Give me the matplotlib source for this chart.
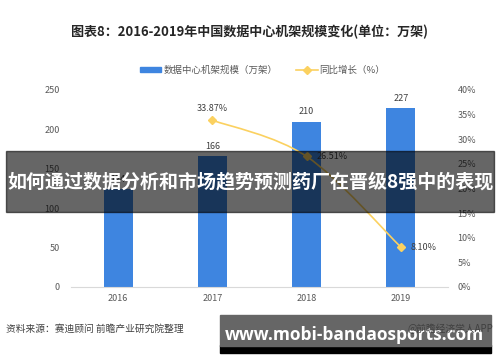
import numpy as np
import matplotlib
matplotlib.use('Agg')
import matplotlib.pyplot as plt
from matplotlib.path import Path
from matplotlib.patches import PathPatch, Rectangle

plt.rcParams['font.family'] = ['Noto Sans CJK SC', 'DejaVu Sans']

years = ['2016', '2017', '2018', '2019']
racks = [124, 166, 210, 227]
growth = [None, 33.87, 26.51, 8.10]

title = '图表8：2016-2019年中国数据中心机架规模变化(单位：万架)'
bar_name = '数据中心机架规模（万架）'
line_name = '同比增长（%）'
source = '资料来源：赛迪顾问 前瞻产业研究院整理'
banner = '如何通过数据分析和市场趋势预测药厂在晋级8强中的表现'
site = 'www.mobi-bandaosports.com'

blue = '#3E85E0'
yellow = '#FBD160'
txt = '#595959'

fig = plt.figure(figsize=(5, 3.62), dpi=100)
ax = fig.add_axes([0.142, 0.2072, 0.754, 0.5442])
ax2 = ax.twinx()

x = np.arange(len(years))
ax.bar(x, racks, width=0.31, color=blue, zorder=2)
for xi, v in zip(x, racks):
    ax.annotate(str(v), (xi, v), xytext=(0, 4), textcoords='offset points',
                ha='center', va='bottom', fontsize=6.5, color='#404040')

ax.set_xlim(-0.5, 3.5)
ax.set_ylim(0, 250)
ax.set_yticks(range(0, 251, 50))
ax.set_xticks(x)
ax.set_xticklabels(years)
ax.tick_params(length=0, labelsize=6.5, labelcolor=txt)
ax.tick_params(axis='y', pad=8)
ax.tick_params(axis='x', pad=5)
for s in ['top', 'left', 'right']:
    ax.spines[s].set_visible(False)
ax.spines['bottom'].set_color('#D9D9D9')

# smooth growth line (catmull-rom as bezier)
gx = [xi for xi, g in zip(x, growth) if g is not None]
gy = [g for g in growth if g is not None]
pts = np.column_stack([gx, gy]).astype(float)
verts = [pts[0]]
codes = [Path.MOVETO]
n = len(pts)
for i in range(n - 1):
    p0 = pts[max(i - 1, 0)]
    p1 = pts[i]
    p2 = pts[i + 1]
    p3 = pts[min(i + 2, n - 1)]
    verts += [p1 + (p2 - p0) / 6, p2 - (p3 - p1) / 6, p2]
    codes += [Path.CURVE4] * 3
ax2.add_patch(PathPatch(Path(verts, codes), fill=False, edgecolor=yellow, lw=1.2, zorder=3))
ax2.plot(gx, gy, linestyle='none', marker='D', ms=4, color=yellow, zorder=4)
offs = [(0, 5, 'center', 'bottom'), (7, 0, 'left', 'center'), (7, 0, 'left', 'center')]
for xi, g, (dx, dy, ha, va) in zip(gx, gy, offs):
    ax2.annotate(f'{g:.2f}%', (xi, g), xytext=(dx, dy), textcoords='offset points',
                 ha=ha, va=va, fontsize=6.5, color='#404040')

ax2.set_ylim(0, 40)
ax2.set_yticks(range(0, 41, 5))
ax2.set_yticklabels([f'{t}%' for t in range(0, 41, 5)])
ax2.tick_params(length=0, labelsize=6.5, labelcolor=txt, pad=7)
for s in ax2.spines.values():
    s.set_visible(False)

fig.text(0.5, 1 - 32 / 362, title, ha='center', va='center', fontsize=9.4,
         fontweight='bold', color='#262626')

h1 = Rectangle((0, 0), 1, 1, color=blue)
h2 = plt.Line2D([], [], color=yellow, lw=1.2, marker='D', ms=4)
fig.legend([h1, h2], [bar_name, line_name], loc='center',
           bbox_to_anchor=(0.525, 1 - 70 / 362), ncol=2, frameon=False,
           fontsize=6.8, handlelength=2.3, handleheight=0.5, columnspacing=2.0,
           handletextpad=0.2, labelcolor=txt)

fig.text(6 / 500, 1 - 329 / 362, source, ha='left', va='center', fontsize=7,
         color='#404040')

# overlay banners
fig.patches.append(Rectangle((6 / 500, 1 - 212 / 362), 488 / 500, 61 / 362,
                             transform=fig.transFigure, color='black', alpha=0.6,
                             zorder=5))
fig.text(0.5, 1 - 182 / 362, banner, ha='center', va='center', fontsize=13.7,
         fontweight='bold', color='white', zorder=6)

fig.patches.append(Rectangle((220 / 500, 1 - 353 / 362), 271 / 500, 8 / 362,
                             transform=fig.transFigure, color='black', zorder=5))
fig.patches.append(Rectangle((220 / 500, 1 - 346 / 362), 271 / 500, 31 / 362,
                             transform=fig.transFigure, color='#666666', zorder=5))
fig.text(407 / 500, 1 - 329 / 362, '@前瞻经济学人APP', ha='left', va='center',
         fontsize=7, color='#404040', zorder=7)
fig.text(354 / 500, 1 - 335 / 362, site, ha='center', va='center', fontsize=12.5,
         fontweight='bold', color='white', family=['Open Sans', 'DejaVu Sans'],
         zorder=6)

fig.savefig('out.png', dpi=100)
